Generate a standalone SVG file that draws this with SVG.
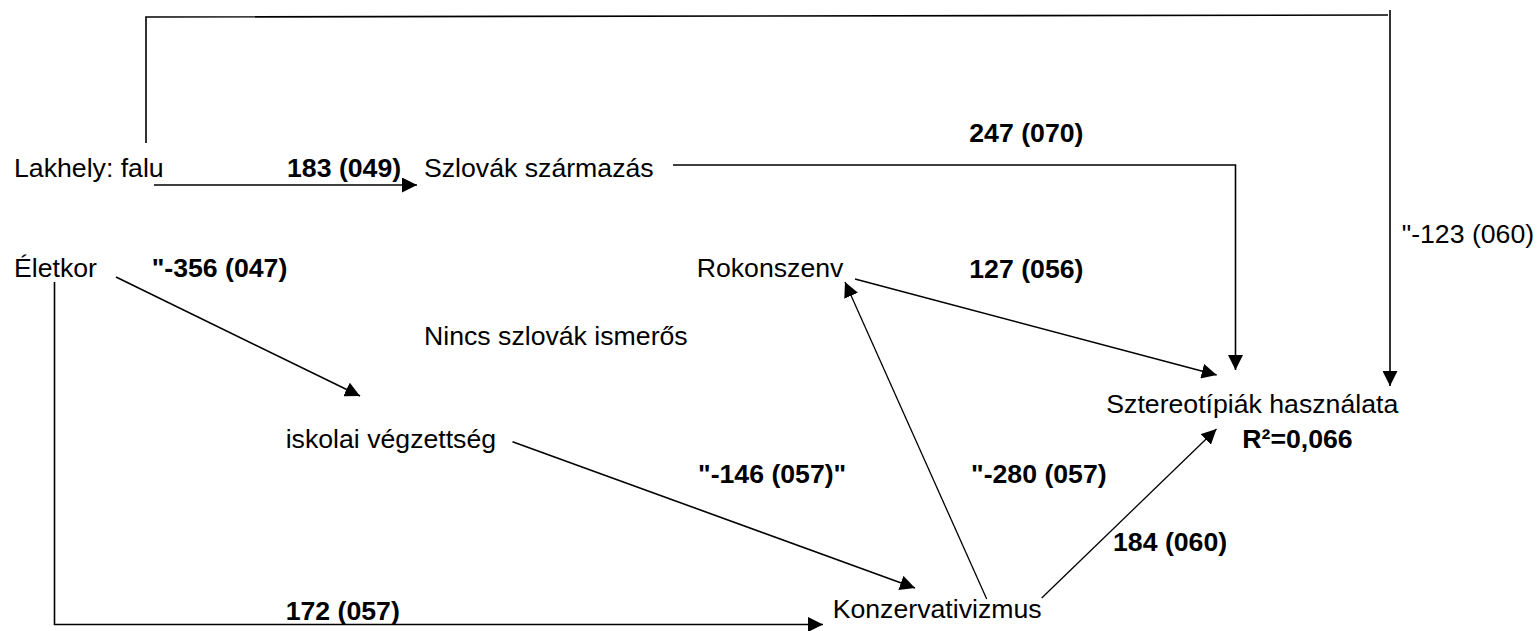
<svg xmlns="http://www.w3.org/2000/svg" width="1539" height="631" viewBox="0 0 1539 631">
<style>
  text { font-family: "Liberation Sans", Arial, sans-serif; font-size: 26.67px; fill: #000; }
  .b { font-weight: bold; }
  .c { fill: none; stroke: #000; stroke-width: 1.6; }
  .t { stroke-width: 1.3; }
</style>
<defs>
  <marker id="ah" viewBox="0 0 15 15" refX="15" refY="7.5" markerWidth="15" markerHeight="15" orient="auto" markerUnits="userSpaceOnUse">
    <path d="M0,0 L15,7.5 L0,15 z" fill="#000"/>
  </marker>
</defs>
<rect width="1539" height="631" fill="#fff"/>
<g id="connectors">
  <path class="c" d="M146,143 L146,17 L1388,15"/>
  <path class="c" d="M1390,10 L1390,386" marker-end="url(#ah)"/>
  <path class="c" d="M154,185 L417,185" marker-end="url(#ah)"/>
  <path class="c" d="M673,165 L1235.5,165 L1235.5,370" marker-end="url(#ah)"/>
  <path class="c" d="M116,277 L360,396" marker-end="url(#ah)"/>
  <path class="c" d="M54.5,282 L54.5,624.5 L823,624.5" marker-end="url(#ah)"/>
  <path class="c" d="M512.5,441.7 L915,588" marker-end="url(#ah)"/>
  <path class="c t" d="M986.7,599 L845,282" marker-end="url(#ah)"/>
  <path class="c" d="M855,279 L1216.7,375" marker-end="url(#ah)"/>
  <path class="c t" d="M1041.7,598 L1216.5,429" marker-end="url(#ah)"/>
</g>
<g id="labels">
  <text class="b" x="287" y="176.7">183 (049)</text>
  <text class="b" x="969.3" y="141.7">247 (070)</text>
  <text class="b" x="151.7" y="276.7">"-356 (047)</text>
  <text class="b" x="969.3" y="278.3">127 (056)</text>
  <text class="b" x="698" y="482.7">"-146 (057)"</text>
  <text class="b" x="971" y="482.7">"-280 (057)</text>
  <text class="b" x="1113" y="551">184 (060)</text>
  <text class="b" x="285.7" y="620">172 (057)</text>
  <text x="1401.7" y="243.3">"-123 (060)</text>
</g>
<g id="lakhely"><text x="14" y="176.5">Lakhely: falu</text></g>
<g id="szlovak"><text x="424" y="176.7">Szlovák származás</text></g>
<g id="eletkor"><text x="14" y="276.7">Életkor</text></g>
<g id="rokonszenv"><text x="696.7" y="277.3">Rokonszenv</text></g>
<g id="nincs"><text x="424" y="345">Nincs szlovák ismerős</text></g>
<g id="iskolai"><text x="285.7" y="448.3">iskolai végzettség</text></g>
<g id="sztereotipiak">
  <text x="1106.3" y="413.3">Sztereotípiák használata</text>
  <text class="b" x="1242.3" y="447.7">R²=0,066</text>
</g>
<g id="konzervativizmus"><text x="832.7" y="617.7">Konzervativizmus</text></g>
</svg>
